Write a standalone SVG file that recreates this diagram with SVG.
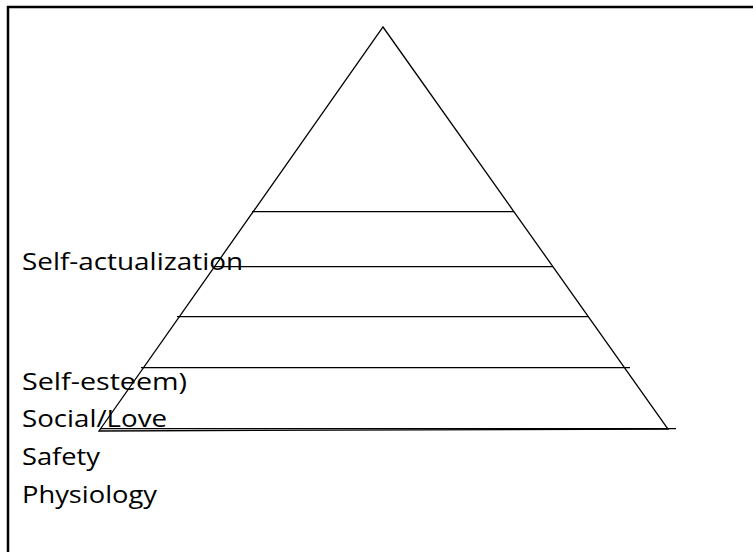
<svg xmlns="http://www.w3.org/2000/svg" width="753" height="552" viewBox="0 0 753 552">
<style>
.ln{stroke:#000;stroke-width:1.3;fill:none}
.lbl{font-family:"Open Sans","Liberation Sans",sans-serif;font-size:24.5px;fill:#000}
</style>
<rect x="0" y="0" width="753" height="552" fill="#fff"/>
<path d="M8 560 V7 H760" stroke="#000" stroke-width="2.5" fill="none"/>
<g id="pyramid">
<polygon class="ln" points="383,27 668,429 99,431"/>
</g>
<g id="connectors">
<line class="ln" x1="252" y1="211.7" x2="514" y2="211.7"/>
<line class="ln" x1="214" y1="266.7" x2="553" y2="266.7"/>
<line class="ln" x1="177" y1="316.7" x2="589" y2="316.7"/>
<line class="ln" x1="141" y1="367.7" x2="630" y2="367.7"/>
<line class="ln" x1="100" y1="428.7" x2="676" y2="428.7"/>
</g>
<g id="labels">
<text class="lbl" x="22" y="270" textLength="221" lengthAdjust="spacingAndGlyphs">Self-actualization</text>
<text class="lbl" x="22" y="390" textLength="165" lengthAdjust="spacingAndGlyphs">Self-esteem)</text>
<text class="lbl" x="22" y="427" textLength="145" lengthAdjust="spacingAndGlyphs">Social/Love</text>
<text class="lbl" x="22" y="465" textLength="78" lengthAdjust="spacingAndGlyphs">Safety</text>
<text class="lbl" x="22" y="503" textLength="135" lengthAdjust="spacingAndGlyphs">Physiology</text>
</g>
</svg>
